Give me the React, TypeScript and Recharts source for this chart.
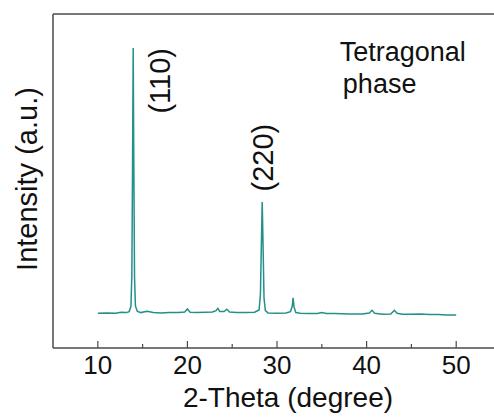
import React from 'react';
import { LineChart, Line, XAxis, YAxis, ReferenceLine, ReferenceDot, Label } from 'recharts';

// XRD pattern
const twoTheta = [
  10, 11, 12, 12.6, 13.2, 13.5, 13.7, 13.8, 13.88, 13.95, 14.02, 14.1, 14.2, 14.4, 14.8,
  15.5, 16.2, 17, 18, 19, 19.7, 20, 20.3, 21, 22, 22.8, 23.2, 23.4, 23.6, 24.1, 24.4, 24.7,
  25.5, 26.5, 27.5, 28, 28.15, 28.27, 28.35, 28.43, 28.55, 28.7, 29, 30, 31, 31.5, 31.7,
  31.8, 31.9, 32.1, 32.6, 33.5, 34.5, 35, 35.5, 36.5, 38, 39.5, 40.3, 40.6, 40.9, 41.8,
  42.7, 43.1, 43.4, 44, 45, 46, 47, 48, 49, 50,
];
const intensity = [
  10.4, 10.5, 10.4, 10.7, 10.6, 10.9, 12.5, 22, 55, 89.8, 55, 21, 12.6, 11, 10.6,
  11, 10.6, 10.5, 10.6, 10.6, 10.8, 11.7, 10.7, 10.6, 10.7, 10.8, 11.2, 11.9, 10.9, 10.9, 11.6, 10.8,
  10.6, 10.6, 10.7, 11.4, 16, 33, 43.7, 33, 15, 11.2, 10.5, 10.4, 10.5, 10.9, 12.5,
  15, 12.3, 10.6, 10.4, 10.3, 10.3, 10.6, 10.3, 10.3, 10.2, 10.2, 10.5, 11.3, 10.4, 10.1,
  10.2, 11.3, 10.4, 10.1, 10.1, 10.2, 10, 10, 9.9, 9.9,
];
const xTicks = [10, 15, 20, 25, 30, 35, 40, 45, 50];

const data = twoTheta.map((t, i) => ({ t, v: intensity[i] }));

const FONT = '"Liberation Sans", Arial, sans-serif';
const AXIS = '#4a4a4a';
const LINE = '#23908a';

const XTick = ({ x, y, payload }: any) => {
  const major = payload.value % 10 === 0;
  return (
    <g>
      <line x1={x} x2={x} y1={y} y2={y - (major ? 7 : 4)} stroke={AXIS} strokeWidth={1.2} />
      {major && (
        <text x={x} y={y + 26} textAnchor="middle" fontSize={26} fill="#111" fontFamily={FONT}>
          {payload.value}
        </text>
      )}
    </g>
  );
};

export default function App() {
  return (
    <div style={{ position: 'absolute', left: 0, top: 0, width: 494, height: 419, overflow: 'hidden', background: '#fff', fontFamily: FONT }}>
      <LineChart width={520} height={419} data={data} margin={{ top: 14, right: 19, bottom: 9, left: 0 }}>
        <XAxis
          dataKey="t"
          type="number"
          domain={[5, 55]}
          ticks={xTicks}
          tick={<XTick />}
          tickLine={false}
          tickSize={0}
          tickMargin={0}
          height={62}
          stroke={AXIS}
          strokeWidth={1.5}
        >
          <Label value="2-Theta (degree)" position="insideBottom" offset={3} dx={11} fontSize={28} fill="#111" fontFamily={FONT} />
        </XAxis>
        <YAxis
          type="number"
          domain={[0, 100]}
          width={53}
          tick={false}
          tickLine={false}
          stroke={AXIS}
          strokeWidth={1.5}
        >
          <Label value="Intensity (a.u.)" position="center" angle={-90} dy={-2} fontSize={29} fill="#111" fontFamily={FONT} />
        </YAxis>
        <ReferenceLine y={100} stroke={AXIS} strokeWidth={1.5} />
        <ReferenceLine x={55} stroke={AXIS} strokeWidth={1.5} />
        <Line dataKey="v" stroke={LINE} strokeWidth={1.5} dot={false} isAnimationActive={false} />
        <ReferenceDot x={16.9} y={80} r={0} fill="none" stroke="none"
          label={{ value: '(110)', position: 'center', angle: -90, fontSize: 29, fill: '#111', fontFamily: FONT }} />
        <ReferenceDot x={28.4} y={57} r={0} fill="none" stroke="none"
          label={{ value: '(220)', position: 'center', angle: -90, fontSize: 29, fill: '#111', fontFamily: FONT }} />
        <ReferenceDot x={37} y={88.8} r={0} fill="none" stroke="none"
          label={{ value: 'Tetragonal', position: 'right', offset: 0, fontSize: 27, fill: '#111', fontFamily: FONT }} />
        <ReferenceDot x={37.35} y={79.1} r={0} fill="none" stroke="none"
          label={{ value: 'phase', position: 'right', offset: 0, fontSize: 27, fill: '#111', fontFamily: FONT }} />
      </LineChart>
    </div>
  );
}
